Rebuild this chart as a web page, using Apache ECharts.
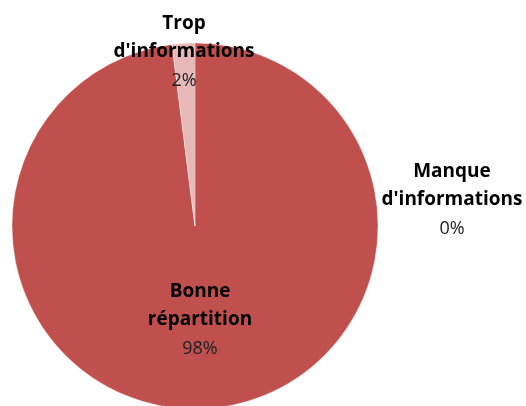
<!DOCTYPE html>
<html><head><meta charset="utf-8">
<script src="https://cdn.jsdelivr.net/npm/echarts@6/dist/echarts.min.js"></script>
<style>html,body{margin:0;padding:0;background:#fff}#c{width:526px;height:406px}</style>
</head><body><div id="c"></div>
<script>
const categories = ["Bonne répartition", "Manque d'informations", "Trop d'informations"];
const values = [98, 0, 2];
const colors = ['#C0504D', '#C0504D', '#E6B9B8'];
const labelPos = [[200, 321], [452, 201], [184, 53]];

const chart = echarts.init(document.getElementById('c'));
chart.setOption({
  animation: false,
  series: [{
    type: 'pie',
    center: [195, 226],
    radius: 183,
    startAngle: 90,
    clockwise: true,
    minAngle: 0,
    stillShowZeroSum: true,
    avoidLabelOverlap: false,
    data: categories.map((c, i) => ({ name: c, value: values[i], itemStyle: { color: colors[i] } })),
    itemStyle: { borderColor: '#fff', borderWidth: 0.3 },
    label: {
      show: true,
      position: 'inside',
      formatter: p => '{n|' + p.name.replace(' ', '\n') + '}\n{p|' + Math.round(p.percent) + '%}',
      rich: {
        n: { fontFamily: 'Open Sans', fontWeight: 'bold', fontSize: 19, lineHeight: 28, color: '#000', align: 'center' },
        p: { fontFamily: 'Open Sans', fontSize: 18, lineHeight: 30, color: '#222', align: 'center' }
      }
    },
    labelLine: { show: false },
    labelLayout: p => ({ x: labelPos[p.dataIndex][0], y: labelPos[p.dataIndex][1], align: 'center', verticalAlign: 'middle' })
  }]
});
</script></body></html>
